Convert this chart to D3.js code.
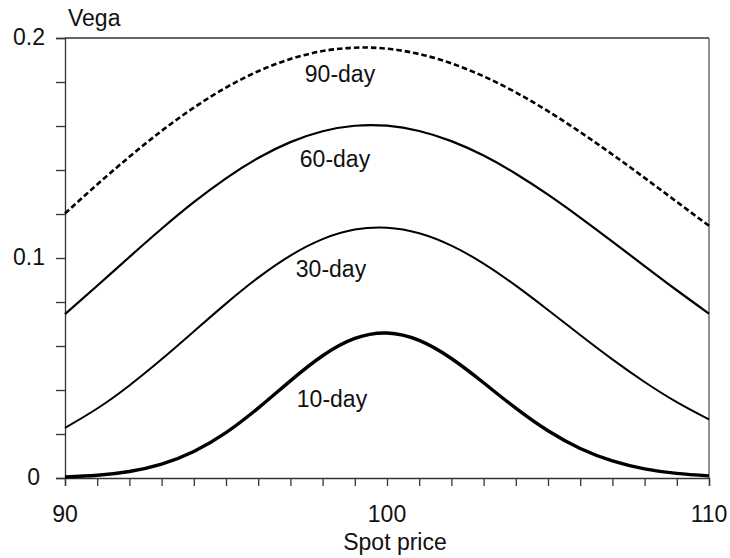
<!DOCTYPE html>
<html>
<head>
<meta charset="utf-8">
<script src="https://cdn.jsdelivr.net/npm/d3@7"></script>
<style>
  html, body { margin: 0; padding: 0; background: #fff; }
  text { font-family: "Liberation Sans", Arial, Helvetica, sans-serif; fill: #111; }
</style>
</head>
<body>
<svg id="chart" width="730" height="558"></svg>
<script>
// ---- data ----
const spotPrices = [90,91,92,93,94,95,96,97,98,99,100,101,102,103,104,105,106,107,108,109,110];
const vega10 = [0.00045,0.00122,0.00294,0.00630,0.01204,0.02063,0.03178,0.04417,0.05556,0.06343,0.06592,0.06254,0.05431,0.04328,0.03173,0.02145,0.01341,0.00776,0.00417,0.00209,0.00097];
const vega30 = [0.02277,0.03158,0.04208,0.05394,0.06659,0.07926,0.09107,0.10111,0.10858,0.11291,0.11380,0.11127,0.10563,0.09746,0.08745,0.07639,0.06500,0.05392,0.04364,0.03448,0.02662];
const vega60 = [0.07450,0.08739,0.10047,0.11329,0.12537,0.13623,0.14546,0.15267,0.15761,0.16011,0.16013,0.15775,0.15313,0.14655,0.13832,0.12881,0.11840,0.10746,0.09634,0.08534,0.07471];
const vega90 = [0.12028,0.13342,0.14602,0.15776,0.16834,0.17746,0.18490,0.19047,0.19405,0.19560,0.19513,0.19271,0.18847,0.18258,0.17526,0.16673,0.15725,0.14706,0.13641,0.12553,0.11462];
const seriesNames = ["10-day","30-day","60-day","90-day"];
const xTickLabels = [90, 100, 110];
const yTickLabels = [0, 0.1, 0.2];
const yAxisTitle = "Vega";
const xAxisTitle = "Spot price";

// ---- layout ----
const svg = d3.select("#chart");
const L = 65, R = 709, T = 38, B = 478;
const x = d3.scaleLinear().domain([90, 110]).range([L, R]);
const y = d3.scaleLinear().domain([0, 0.2]).range([B, T]);
const axisColor = "#333";
const fontSize = 23;

// frame (top and right)
svg.append("line").attr("x1", L).attr("x2", R).attr("y1", T).attr("y2", T)
  .attr("stroke", axisColor).attr("stroke-width", 1.3);
svg.append("line").attr("x1", R).attr("x2", R).attr("y1", T).attr("y2", B)
  .attr("stroke", "#555").attr("stroke-width", 1.3);

// y axis
const yAxis = d3.axisLeft(y).tickValues(d3.range(0, 0.2001, 0.02)).tickSize(9).tickFormat("");
const gy = svg.append("g").attr("transform", `translate(${L},0)`).call(yAxis);
gy.select(".domain").attr("stroke", axisColor).attr("stroke-width", 1.3);
gy.selectAll(".tick line").attr("stroke", axisColor).attr("stroke-width", 1.3);

// x axis
const xAxis = d3.axisBottom(x).tickValues(d3.range(90, 110.01, 1)).tickSize(8).tickFormat("");
const gx = svg.append("g").attr("transform", `translate(0,${B})`).call(xAxis);
gx.select(".domain").attr("stroke", axisColor).attr("stroke-width", 1.3);
gx.selectAll(".tick line").attr("stroke", axisColor).attr("stroke-width", 1.3);

// y tick labels
svg.selectAll(".ylab").data(yTickLabels).enter().append("text")
  .attr("class", "ylab")
  .attr("x", d => d === 0 ? 40 : 45)
  .attr("y", d => y(d) + 7)
  .attr("text-anchor", "end")
  .attr("font-size", fontSize)
  .text(d => d3.format("")(d));

// x tick labels
svg.selectAll(".xlab").data(xTickLabels).enter().append("text")
  .attr("class", "xlab")
  .attr("x", d => x(d))
  .attr("y", B + 44)
  .attr("text-anchor", "middle")
  .attr("font-size", fontSize)
  .text(d => d);

// titles
svg.append("text").attr("x", 68).attr("y", 26).attr("font-size", fontSize).text(yAxisTitle);
svg.append("text").attr("x", 395).attr("y", 550).attr("text-anchor", "middle")
  .attr("font-size", fontSize).text(xAxisTitle);

// curves
const line = d3.line().x(d => x(d[0])).y(d => y(d[1])).curve(d3.curveNatural);
const allSeries = [
  { name: seriesNames[0], values: vega10, width: 3.4, dash: null, lx: 332, ly: 407 },
  { name: seriesNames[1], values: vega30, width: 2.0, dash: null, lx: 331, ly: 277 },
  { name: seriesNames[2], values: vega60, width: 2.2, dash: null, lx: 335, ly: 167 },
  { name: seriesNames[3], values: vega90, width: 2.6, dash: "5.5,3", lx: 340, ly: 82 }
];
allSeries.forEach(s => {
  const pts = spotPrices.map((p, i) => [p, s.values[i]]);
  svg.append("path").datum(pts)
    .attr("d", line)
    .attr("fill", "none")
    .attr("stroke", "#000")
    .attr("stroke-width", s.width)
    .attr("stroke-dasharray", s.dash);
  svg.append("text").attr("x", s.lx).attr("y", s.ly)
    .attr("text-anchor", "middle").attr("font-size", fontSize).text(s.name);
});
</script>
</body>
</html>
